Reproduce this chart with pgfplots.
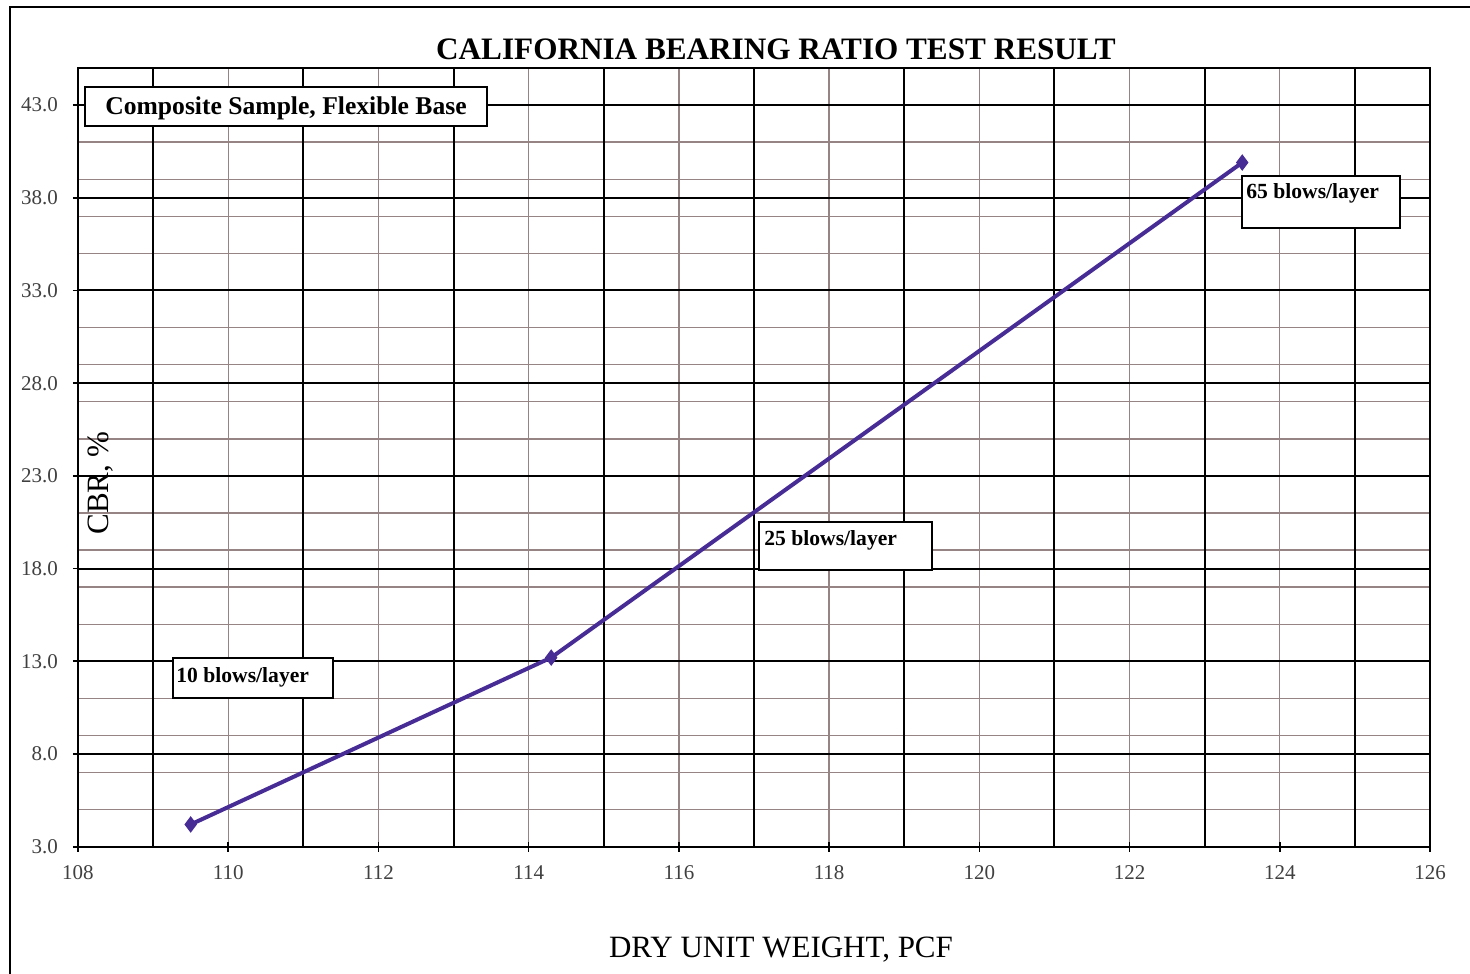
\documentclass[border=0pt]{standalone}
\usepackage{fontspec}
\setmainfont{Liberation Serif}
\usepackage{pgfplots}
\pgfplotsset{compat=1.18}
\definecolor{gridgray}{RGB}{150,132,132}
\definecolor{lineblue}{RGB}{72,44,150}
\begin{document}
\begin{tikzpicture}
\path[use as bounding box] (-39pt,-63.15pt) rectangle (696pt,423.35pt);
\draw[line width=1pt] (-34pt,-80pt) rectangle (720pt,419.85pt);
\begin{axis}[
 scale only axis, width=676pt, height=389.35pt,
 xmin=108, xmax=126, ymin=3, ymax=45,
 xtick={108,110,...,126},
 ytick={3,8,...,43},
 minor ytick={5,7,...,45},
 extra x ticks={109,111,...,125},
 extra x tick labels={},
 extra x tick style={grid=major, major x grid style={black, line width=1pt}, major tick length=0pt},
 grid=both,
 major x grid style={gridgray, line width=0.7pt},
 major y grid style={black, line width=1pt},
 minor y grid style={gridgray, line width=0.7pt},
 minor tick length=0pt,
 major tick length=5pt,
 tick align=center,
 tick pos=left,
 axis line style={black, line width=1pt},
 tick style={black, line width=0.8pt},
 /pgf/number format/assume math mode=true,
 yticklabel style={/pgf/number format/.cd, fixed, fixed zerofill, precision=1, /tikz/.cd, xshift=-4pt},
 xticklabel style={/pgf/number format/.cd, fixed, precision=0, 1000 sep={}, /tikz/.cd, yshift=-3.5pt},
 ticklabel style={font=\fontsize{10.5}{12}\selectfont, text=black!75},
 clip=false,
]
\addplot[lineblue, line width=2pt, mark=diamond*, mark size=2.5pt] coordinates {(109.5,4.2) (114.3,13.2) (123.5,39.9)};
\end{axis}
\node[font=\fontsize{15.6}{18}\selectfont\bfseries, anchor=base, inner sep=0pt] at (349pt,393.35pt) {CALIFORNIA BEARING RATIO TEST RESULT};
\node[font=\fontsize{15.5}{18}\selectfont, anchor=base, inner sep=0pt] at (351.5pt,-55.15pt) {DRY UNIT WEIGHT, PCF};
\node[font=\fontsize{15.5}{18}\selectfont, anchor=base, inner sep=0pt, rotate=90] at (15pt,181.85pt) {CBR, \%};
\draw[line width=0.8pt, fill=white] (3.5pt,360.35pt) rectangle (204.5pt,379.85pt);
\node[font=\fontsize{12.8}{15}\selectfont\bfseries, anchor=base, inner sep=0pt] at (104pt,365.85pt) {Composite Sample, Flexible Base};
\draw[line width=0.8pt, fill=white] (582pt,309.35pt) rectangle (661pt,335.35pt);
\node[font=\fontsize{10.8}{13}\selectfont\bfseries, anchor=base west, inner sep=0pt] at (584pt,323.85pt) {65 blows/layer};
\draw[line width=0.8pt, fill=white] (340.5pt,138.35pt) rectangle (427pt,162.35pt);
\node[font=\fontsize{10.8}{13}\selectfont\bfseries, anchor=base west, inner sep=0pt] at (343pt,150.35pt) {25 blows/layer};
\draw[line width=0.8pt, fill=white] (47.5pt,74.35pt) rectangle (127.5pt,94.35pt);
\node[font=\fontsize{10.8}{13}\selectfont\bfseries, anchor=base west, inner sep=0pt] at (49pt,81.85pt) {10 blows/layer};
\end{tikzpicture}
\end{document}
